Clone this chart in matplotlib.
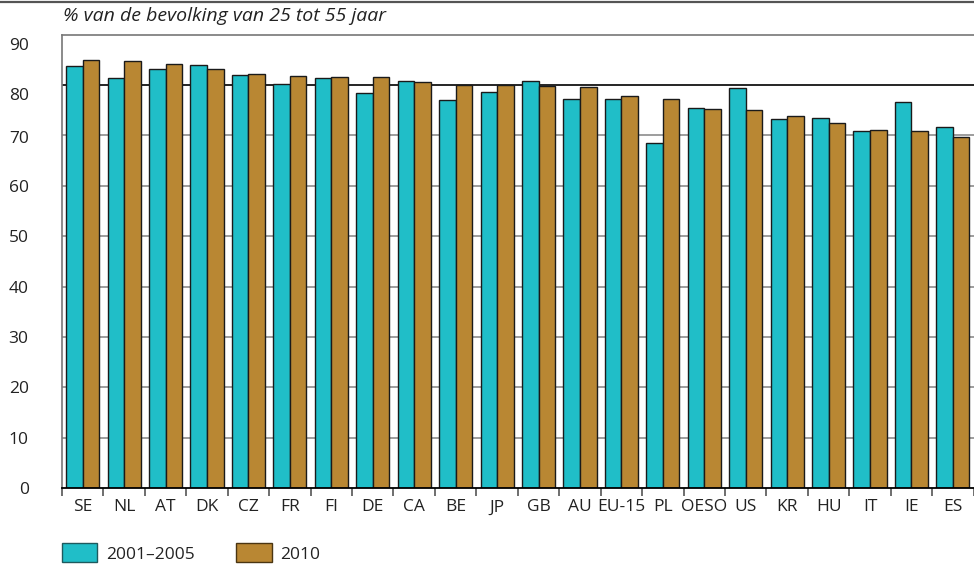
import numpy as np
import matplotlib
matplotlib.use('Agg')
import matplotlib.pyplot as plt
from matplotlib.patches import Patch
from matplotlib.transforms import ScaledTranslation

# Share of population aged 25-55 (%)
countries = ['SE', 'NL', 'AT', 'DK', 'CZ', 'FR', 'FI', 'DE', 'CA', 'BE', 'JP',
             'GB', 'AU', 'EU-15', 'PL', 'OESO', 'US', 'KR', 'HU', 'IT', 'IE', 'ES']
period_2001_2005 = [83.8, 81.3, 83.1, 84.0, 81.9, 80.1, 81.4, 78.3, 80.8, 77.1, 78.5,
                    80.7, 77.3, 77.3, 68.5, 75.4, 79.4, 73.3, 73.5, 70.9, 76.6, 71.7]
year_2010 = [85.0, 84.7, 84.2, 83.2, 82.2, 81.8, 81.6, 81.5, 80.5, 80.0, 79.9,
             79.8, 79.5, 77.9, 77.2, 75.3, 75.1, 73.8, 72.5, 71.1, 70.8, 69.6]
yticks = [0, 10, 20, 30, 40, 50, 60, 70, 80, 90]
series_names = ['2001\u20132005', '2010']

teal = '#20bec8'
brown = '#b98733'
grid_grey = '#8c8c8c'

plt.rcParams['font.family'] = ['Open Sans', 'DejaVu Sans']

fig = plt.figure(figsize=(9.74, 5.69), dpi=100)
W, H = 974, 569
ax = fig.add_axes([62 / W, 1 - 488.3 / H, (973.6 - 62) / W, (488.3 - 34.5) / H])

x = np.arange(len(countries))
bw = 0.4
ax.bar(x - bw / 2, period_2001_2005, width=bw, color=teal, edgecolor='#1a1a1a',
       linewidth=1.0, zorder=3)
ax.bar(x + bw / 2, year_2010, width=bw, color=brown, edgecolor='#1a1a1a',
       linewidth=1.0, zorder=3)

ax.set_xlim(-0.5, len(countries) - 0.5)
ax.set_ylim(0, 90)

# gridlines, the 80 line in black
for t in yticks[1:-1]:
    ax.axhline(t, color='black' if t == 80 else grid_grey, linewidth=1.2, zorder=1)

ax.set_yticks(yticks)
ax.tick_params(axis='y', length=0, pad=24, labelsize=12.5, labelcolor='#222222')
# the top labels sit a little below their lines in the original
nudge = {70: 1.5, 80: 6.5, 90: 7.0}
for t, lab in zip(yticks, ax.get_yticklabels()):
    if t in nudge:
        lab.set_transform(lab.get_transform() +
                          ScaledTranslation(0, -nudge[t] / 72, fig.dpi_scale_trans))

ax.set_xticks(x)
ax.set_xticklabels(countries)
ax.set_xticks(np.arange(len(countries) + 1) - 0.5, minor=True)
ax.tick_params(axis='x', which='major', length=0, pad=8, labelsize=12.5,
               labelcolor='#222222')
ax.tick_params(axis='x', which='minor', length=6, width=1.2, color='#555555')

for side in ['left', 'top']:
    ax.spines[side].set_color('#777777')
    ax.spines[side].set_linewidth(1.2)
ax.spines['right'].set_visible(False)
ax.spines['bottom'].set_color('black')
ax.spines['bottom'].set_linewidth(1.3)
ax.spines['bottom'].set_zorder(4)

# top rule and heading
fig.add_artist(plt.Line2D([0, 1], [1 - 1.5 / H, 1 - 1.5 / H], color='#555555',
                          linewidth=1.6, transform=fig.transFigure))
fig.text(63 / W, 1 - 16 / H, '% van de bevolking van 25 tot 55 jaar', fontsize=14,
         fontstyle='italic', color='#222222', va='center', ha='left')

handles = [Patch(facecolor=teal, edgecolor='#1e5a5e', linewidth=1.0),
           Patch(facecolor=brown, edgecolor='#4a3512', linewidth=1.0)]
fig.legend(handles, series_names, loc='center left',
           bbox_to_anchor=(46 / W, 1 - 553 / H), ncol=2, frameon=False,
           fontsize=12.5, handlelength=2.05, handleheight=1.25,
           handletextpad=0.5, columnspacing=2.4, labelcolor='#222222')

fig.savefig('out.png', dpi=100)
